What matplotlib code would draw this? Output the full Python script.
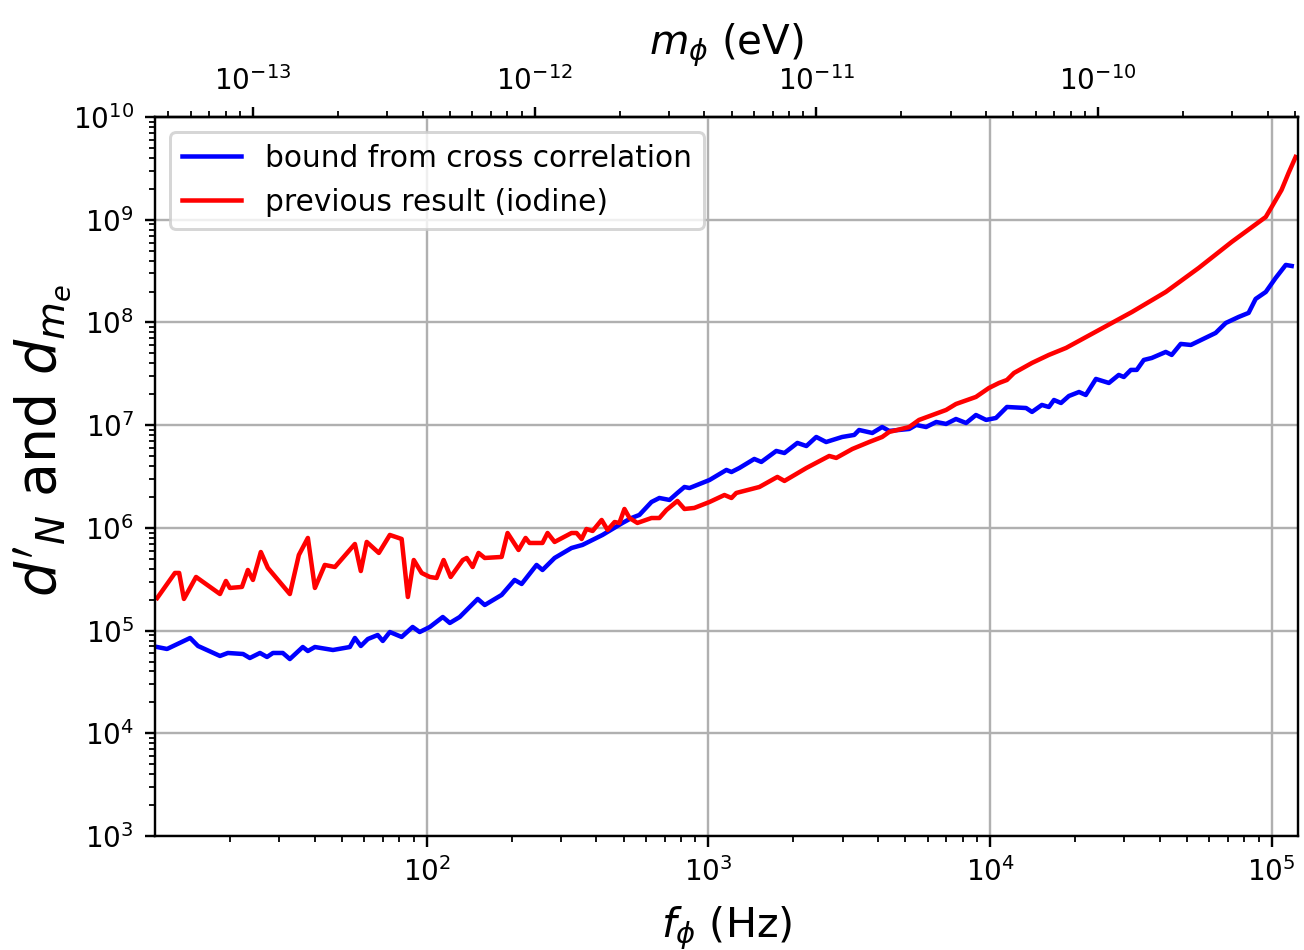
import numpy as np
import matplotlib.pyplot as plt

# values, in log10 units
# bound from cross correlation (blue)
logf_blue = [1.043, 1.078, 1.160, 1.188, 1.266, 1.294, 1.348, 1.372, 1.408, 1.433,
             1.454, 1.489, 1.514, 1.560, 1.578, 1.603, 1.667, 1.727, 1.745, 1.766,
             1.791, 1.826, 1.844, 1.869, 1.911, 1.950, 1.975, 2.011, 2.057, 2.082,
             2.117, 2.181, 2.206, 2.266, 2.312, 2.337, 2.390, 2.411, 2.454, 2.514,
             2.553, 2.624, 2.695, 2.727, 2.755, 2.798, 2.826, 2.862, 2.890, 2.915,
             2.933, 3.004, 3.064, 3.082, 3.110, 3.163, 3.188, 3.241, 3.270, 3.316,
             3.348, 3.383, 3.418, 3.475, 3.518, 3.535, 3.582, 3.617, 3.642, 3.713,
             3.738, 3.773, 3.809, 3.844, 3.879, 3.915, 3.950, 3.986, 4.021, 4.060,
             4.128, 4.149, 4.184, 4.209, 4.227, 4.252, 4.280, 4.316, 4.340, 4.376,
             4.422, 4.457, 4.475, 4.500, 4.521, 4.546, 4.574, 4.624, 4.645, 4.677,
             4.713, 4.801, 4.837, 4.883, 4.918, 4.943, 4.979, 5.014, 5.050, 5.071]
logd_blue = [4.840, 4.821, 4.928, 4.850, 4.753, 4.782, 4.772, 4.733, 4.782, 4.743,
             4.782, 4.782, 4.723, 4.840, 4.801, 4.840, 4.811, 4.840, 4.928, 4.850,
             4.918, 4.957, 4.899, 4.986, 4.938, 5.035, 4.986, 5.035, 5.132, 5.074,
             5.132, 5.308, 5.249, 5.347, 5.493, 5.454, 5.639, 5.590, 5.707, 5.804,
             5.834, 5.931, 6.048, 6.096, 6.126, 6.252, 6.291, 6.272, 6.340, 6.398,
             6.388, 6.466, 6.564, 6.544, 6.583, 6.671, 6.642, 6.749, 6.729, 6.827,
             6.797, 6.885, 6.836, 6.885, 6.905, 6.953, 6.924, 6.982, 6.944, 6.963,
             7.002, 6.982, 7.031, 7.012, 7.060, 7.021, 7.099, 7.051, 7.070, 7.177,
             7.167, 7.129, 7.197, 7.177, 7.245, 7.216, 7.284, 7.323, 7.294, 7.450,
             7.411, 7.489, 7.469, 7.538, 7.538, 7.635, 7.654, 7.713, 7.684, 7.791,
             7.781, 7.898, 7.995, 8.054, 8.093, 8.229, 8.297, 8.433, 8.560, 8.550]

# previous result (iodine) (red)
logf_red = [1.043, 1.106, 1.121, 1.138, 1.181, 1.266, 1.287, 1.301, 1.344, 1.365,
            1.383, 1.411, 1.436, 1.514, 1.546, 1.578, 1.603, 1.638, 1.674, 1.745,
            1.766, 1.787, 1.830, 1.869, 1.911, 1.933, 1.954, 1.982, 2.011, 2.035,
            2.060, 2.085, 2.128, 2.142, 2.163, 2.184, 2.206, 2.266, 2.287, 2.326,
            2.351, 2.365, 2.411, 2.429, 2.454, 2.514, 2.532, 2.550, 2.567, 2.589,
            2.621, 2.642, 2.667, 2.684, 2.702, 2.720, 2.748, 2.798, 2.826, 2.851,
            2.890, 2.915, 2.950, 3.004, 3.057, 3.082, 3.099, 3.181, 3.245, 3.270,
            3.348, 3.429, 3.454, 3.511, 3.571, 3.617, 3.642, 3.713, 3.748, 3.844,
            3.879, 3.950, 3.996, 4.032, 4.060, 4.085, 4.149, 4.209, 4.270, 4.387,
            4.504, 4.624, 4.741, 4.858, 4.979, 5.000, 5.035, 5.060, 5.085]
logd_red = [5.317, 5.561, 5.561, 5.308, 5.522, 5.356, 5.483, 5.415, 5.425, 5.590,
            5.493, 5.765, 5.610, 5.356, 5.736, 5.902, 5.415, 5.639, 5.619, 5.843,
            5.580, 5.863, 5.756, 5.931, 5.892, 5.327, 5.687, 5.561, 5.522, 5.512,
            5.687, 5.522, 5.687, 5.707, 5.619, 5.756, 5.707, 5.717, 5.950, 5.785,
            5.902, 5.853, 5.853, 5.950, 5.863, 5.950, 5.950, 5.892, 5.989, 5.970,
            6.077, 5.980, 6.057, 6.048, 6.184, 6.096, 6.048, 6.096, 6.096, 6.174,
            6.262, 6.184, 6.194, 6.252, 6.320, 6.291, 6.340, 6.398, 6.496, 6.457,
            6.583, 6.700, 6.681, 6.768, 6.836, 6.885, 6.934, 6.982, 7.051, 7.148,
            7.206, 7.275, 7.362, 7.411, 7.440, 7.508, 7.606, 7.684, 7.752, 7.927,
            8.102, 8.297, 8.531, 8.784, 9.027, 9.125, 9.290, 9.456, 9.611]

f_blue = 10 ** np.array(logf_blue)
d_blue = 10 ** np.array(logd_blue)
f_red = 10 ** np.array(logf_red)
d_red = 10 ** np.array(logd_red)

h_eV = 4.135667e-15  # eV s


def f2m(f):
    return f * h_eV


def m2f(m):
    return m / h_eV


fig = plt.figure(figsize=(1304 / 216, 950 / 216), dpi=216)
ax = fig.add_axes([0.1189, 0.12, 0.8765, 0.7568])

ax.plot(f_blue, d_blue, color='blue', label='bound from cross correlation')
ax.plot(f_red, d_red, color='red', label='previous result (iodine)')

ax.set_xscale('log')
ax.set_yscale('log')
ax.set_xlim(10.85, 1.24e5)
ax.set_ylim(1e3, 1e10)
ax.grid(True, which='major')
ax.tick_params(which='both', labelsize=9.3)

ax.set_xlabel(r'$f_\phi$ (Hz)', fontsize=13.8)
ax.xaxis.set_label_coords(0.5, -0.095)
ax.set_ylabel(r"$d'_N$ and $d_{m_e}$", fontsize=18.5)
ax.yaxis.set_label_coords(-0.072, 0.55)
ax.legend(loc='upper left', fontsize=9.9)

secax = ax.secondary_xaxis('top', functions=(f2m, m2f))
secax.tick_params(which='both', labelsize=9.3)
secax.set_xlabel(r'$m_\phi$ (eV)', fontsize=13.5)

plt.savefig('out.png', dpi=216)
